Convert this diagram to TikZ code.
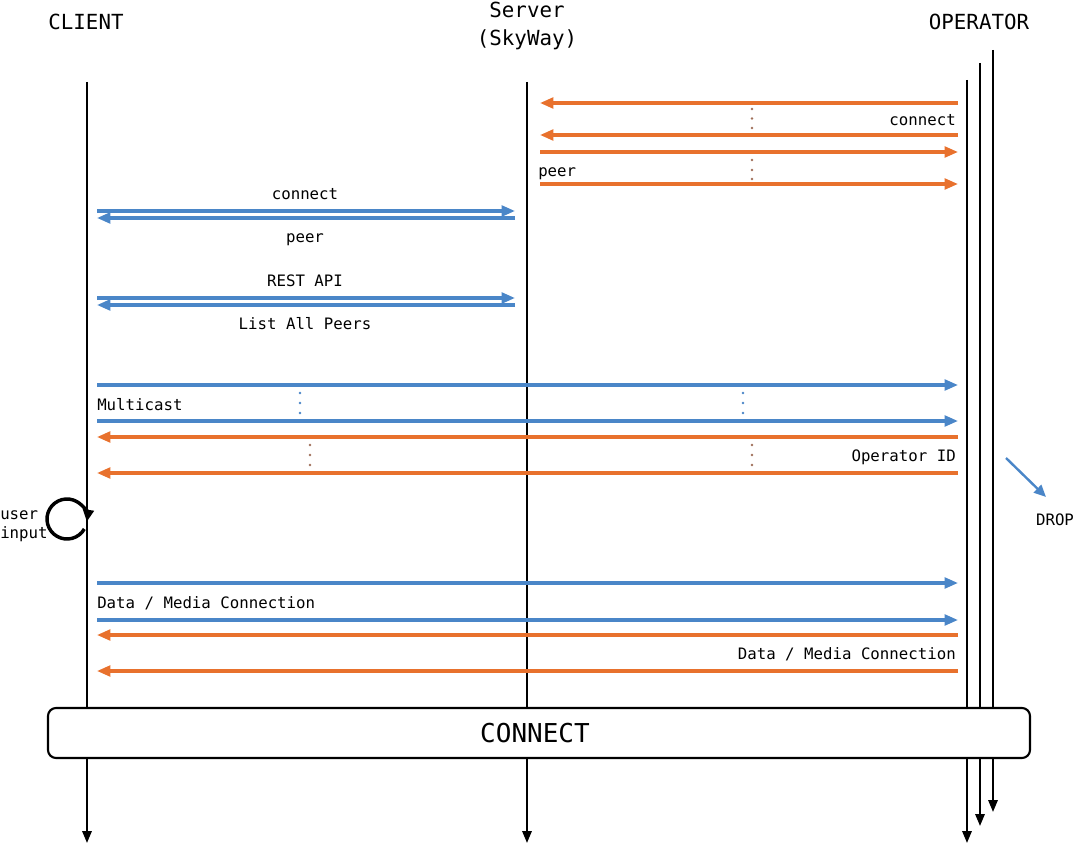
\documentclass[tikz,border=0pt]{standalone}
\usepackage{fontspec}
\setmainfont{DejaVu Sans Mono}
\usetikzlibrary{arrows.meta}
\definecolor{cblue}{RGB}{74,134,200}
\definecolor{corange}{RGB}{232,113,45}
\definecolor{cdot}{RGB}{160,112,90}
\begin{document}
\begin{tikzpicture}[x=0.75pt,y=-0.75pt,
  life/.style={line width=1.6pt,-{Triangle[length=9pt,width=7pt]}},
  bmsg/.style={cblue,line width=2.3pt,-{Triangle[length=10pt,width=8pt]}},
  omsg/.style={corange,line width=2.3pt,-{Triangle[length=10pt,width=8pt]}},
  bdot/.style={fill=cblue,draw=none},
  odot/.style={fill=cdot,draw=none},
  lbl/.style={font=\fontsize{11.8}{13}\selectfont,text height=0.75em,text depth=0.2em,inner sep=0pt,yshift=-2.2pt},
  ttl/.style={font=\fontsize{15.6}{17}\selectfont,text height=0.75em,text depth=0.2em,inner sep=0pt,yshift=-3.2pt},
  bigbox/.style={draw,line width=1.6pt,rounded corners=6pt,fill=white}]
\useasboundingbox (0,0) rectangle (1075,845);
% titles
\node[ttl] (tclient) at (86,22) {CLIENT};
\node[ttl] (tserver) at (527,10) {Server};
\node[ttl] (tsky) at (527,38) {(SkyWay)};
\node[ttl] (toper) at (979,22) {OPERATOR};
% lifelines
\coordinate (c0) at (87,82);  \coordinate (c1) at (87,843);
\coordinate (s0) at (527,82); \coordinate (s1) at (527,843);
\coordinate (o0) at (967,80); \coordinate (o1) at (967,843);
\coordinate (p0) at (980,63); \coordinate (p1) at (980,826);
\coordinate (q0) at (993,50); \coordinate (q1) at (993,812);
\draw[life] (c0) -- (c1);
\draw[life] (s0) -- (s1);
\draw[life] (o0) -- (o1);
\draw[life] (p0) -- (p1);
\draw[life] (q0) -- (q1);
% operator <-> server
\draw[omsg] (958,103) -- (540,103);
\draw[omsg] (958,135) -- (540,135);
\node[lbl,anchor=east] (lconn1) at (956,119) {connect};
\foreach \y in {109,118.5,128} \fill[odot] (752,\y) circle (1.3);
\draw[omsg] (540,152) -- (958,152);
\draw[omsg] (540,184) -- (958,184);
\node[lbl,anchor=west] (lpeer1) at (538,170) {peer};
\foreach \y in {160,170,179} \fill[odot] (752,\y) circle (1.3);
% client <-> server
\draw[bmsg] (97,211) -- (515,211);
\draw[bmsg] (515,218) -- (97,218);
\node[lbl] (lconn2) at (305,193) {connect};
\node[lbl] (lpeer2) at (305,236) {peer};
\draw[bmsg] (97,298) -- (515,298);
\draw[bmsg] (515,305) -- (97,305);
\node[lbl] (lrest) at (305,280) {REST API};
\node[lbl] (llist) at (305,323) {List All Peers};
% multicast
\draw[bmsg] (97,385) -- (958,385);
\draw[bmsg] (97,421) -- (958,421);
\node[lbl,anchor=west] (lmulti) at (97,404) {Multicast};
\foreach \y in {393,403,413} {\fill[bdot] (300,\y) circle (1.3); \fill[bdot] (743,\y) circle (1.3);}
\draw[omsg] (958,437) -- (97,437);
\draw[omsg] (958,473) -- (97,473);
\node[lbl,anchor=east] (lopid) at (956,455) {Operator ID};
\foreach \y in {445,455,465} {\fill[odot] (310,\y) circle (1.3); \fill[odot] (752,\y) circle (1.3);}
% user input
\draw[line width=2.6pt,-{Triangle[length=9pt,width=8pt]}] (67,519) ++(30:20) arc[start angle=30,end angle=368,radius=20];
\node[lbl,anchor=west] (luser) at (0,513) {user};
\node[lbl,anchor=west] (linput) at (0,532) {input};
% drop
\coordinate (d0) at (1006,458);
\coordinate (d1) at (1046,497);
\draw[cblue,line width=1.8pt,-{Triangle[length=9pt,width=8pt]}] (d0) -- (d1);
\node[lbl] (ldrop) at (1055,519) {DROP};
% data / media
\draw[bmsg] (97,583) -- (958,583);
\draw[bmsg] (97,620) -- (958,620);
\node[lbl,anchor=west] (ldata1) at (97,602) {Data / Media Connection};
\draw[omsg] (958,635) -- (97,635);
\draw[omsg] (958,671) -- (97,671);
\node[lbl,anchor=east] (ldata2) at (956,653) {Data / Media Connection};
% connect box
\draw[bigbox] (48,708) rectangle (1030,758);
\node[font=\fontsize{19.5}{22}\selectfont,text height=0.75em,text depth=0.2em,inner sep=0pt,yshift=-4pt] (lconnect) at (535,733) {CONNECT};
\end{tikzpicture}
\end{document}
